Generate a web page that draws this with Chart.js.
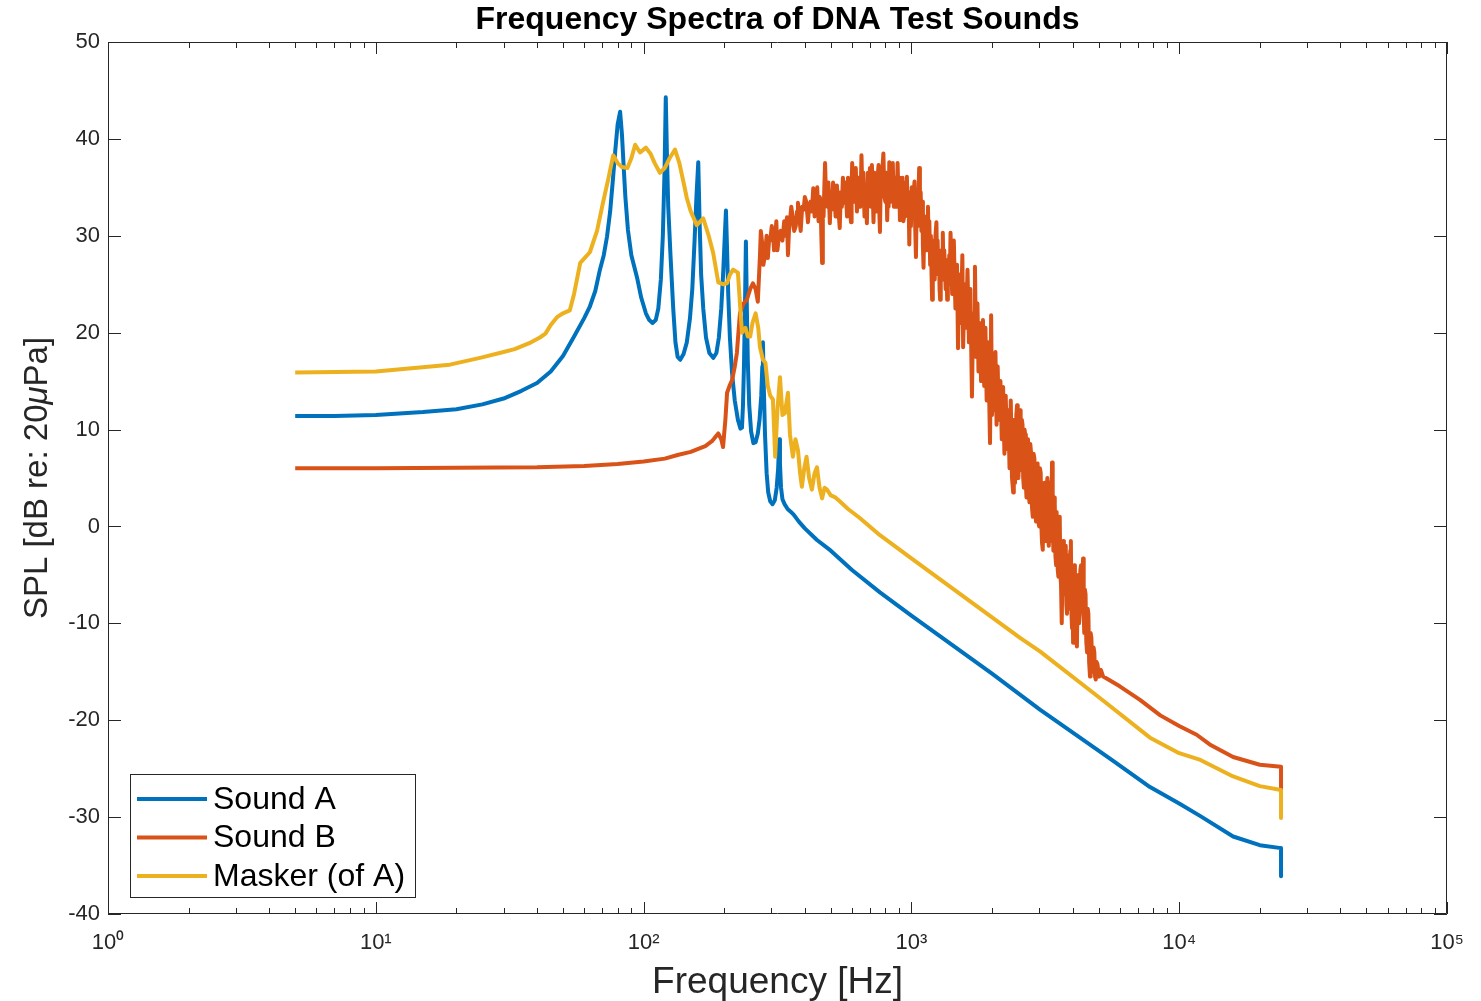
<!DOCTYPE html>
<html>
<head>
<meta charset="utf-8">
<script src="https://cdn.jsdelivr.net/npm/chart.js@4.4.1/dist/chart.umd.min.js"></script>
<style>
  html, body { margin: 0; padding: 0; background: #fff; }
  #wrap { width: 1481px; height: 1001px; position: relative; }
</style>
</head>
<body>
<div id="wrap"><canvas id="spectra"></canvas></div>
<script>
// [frequency in Hz, SPL in dB]
const soundA = [
  [5, 11.4], [7, 11.4], [10, 11.5], [15, 11.8], [20, 12.1], [25, 12.6], [30, 13.2], [35, 14.0],
  [40, 14.8], [45, 16.0], [50, 17.6], [55, 19.6], [60, 21.5], [63, 22.7], [66, 24.3], [68.7, 26.5],
  [71, 28.0], [73, 29.9], [75, 32.5], [76.8, 35.8], [78.5, 39.0], [80, 41.5], [81.7, 42.8],
  [83, 40.5], [84.3, 37.0], [85.5, 34.0], [87.4, 30.6], [90, 28.0], [94.5, 25.7], [98, 23.6],
  [102, 22.0], [105, 21.3], [108, 21.0], [111, 21.3], [113.5, 22.5], [116, 25.5], [118, 30.0],
  [119.8, 37.0], [121, 44.3], [122.2, 38.5], [123.6, 33.0], [126, 28.0], [129, 22.5], [131.5, 19.0],
  [134, 17.5], [137, 17.2], [141, 17.8], [145, 19.0], [149, 21.5], [152, 24.5], [155, 29.5],
  [157.5, 34.0], [160, 37.6], [162, 31.0], [164, 26.0], [167, 22.5], [171, 19.5], [176, 17.9],
  [182, 17.4], [187, 17.9], [191, 19.5], [195, 22.5], [198.5, 26.5], [201, 30.0], [203, 32.6],
  [205, 28.5], [207, 24.0], [210, 19.5], [214, 15.8], [219, 13.0], [225, 11.0], [230, 10.1],
  [233, 10.2], [235, 12.5], [237, 16.5], [239, 22.5], [241, 29.4], [243, 22.5], [245, 17.0],
  [248, 12.5], [252, 9.8], [257, 8.6], [262, 8.7], [267, 9.6], [271, 11.0], [275, 13.5],
  [277.5, 16.5], [279, 19.0], [281, 14.5], [284, 9.5], [288, 5.5], [292, 3.5], [297, 2.6],
  [303, 2.3], [309, 2.7], [314, 4.0], [318, 6.0], [321, 9.0], [323, 6.5], [326, 4.0], [330, 2.8],
  [336, 2.3], [345, 1.8], [355, 1.5], [364, 1.2], [380, 0.5], [400, -0.2], [444, -1.4],
  [500, -2.5], [600, -4.5], [763, -6.8], [1000, -9.2], [2000, -15.2], [3020, -18.9], [5600, -24.1],
  [7780, -26.9], [10000, -28.6], [12000, -29.9], [15900, -32.0], [20000, -32.9], [24000, -33.2],
  [24000, -36.1]
];

const soundB = [
  [5, 6.0], [10, 6.0], [20, 6.05], [40, 6.1], [60, 6.25], [80, 6.45], [100, 6.7], [120, 7.0],
  [135, 7.4], [150, 7.7], [160, 8.0], [170, 8.3], [180, 8.8], [190, 9.6], [195, 9.0], [198, 8.2],
  [202, 11.0], [205, 13.8], [210, 14.6], [214, 15.1], [219, 16.5], [223, 17.9], [226, 20.0],
  [229, 22.0], [236, 23.0], [243, 23.4], [250, 24.5], [256, 25.1], [262, 24.5], [267, 23.2],
  [272, 28.0], [274, 30.5], [277, 29.3], [280, 27.0], [284, 28.0], [288, 30.0], [291, 27.7],
  [294, 29.5], [297, 29.5], [301, 31.0], [304, 30.4], [307, 28.5], [310, 29.5], [313, 31.5],
  [316, 28.5], [320, 30.0], [325, 30.5], [330, 29.5], [335, 31.5], [339, 30.0], [343, 31.9],
  [346, 28.0], [349, 30.5], [352, 31.5], [356, 33.0], [360, 32.0], [365, 30.5], [370, 31.0],
  [374, 32.5], [377, 33.4], [381, 32.0], [386, 30.5], [391, 33.0], [396, 32.7], [400, 34.0],
  [405, 33.5], [411, 31.4], [415, 33.0], [420, 33.5], [425, 32.5], [430, 34.9], [435, 32.0],
  [440, 33.0], [445, 35.0], [450, 31.5], [455, 34.0], [458, 33.5], [461, 30.0], [464, 27.2],
  [467, 33.0], [470, 32.0], [473, 35.0], [476, 37.5], [480, 34.0], [486, 33.0], [490, 35.5],
  [496, 31.3], [500, 34.0], [505, 32.7], [510, 35.5], [516, 34.5], [521, 32.0], [527, 35.2],
  [533, 33.0], [540, 30.8], [545, 34.5], [550, 33.0], [555, 36.0], [560, 33.4], [567, 35.5],
  [575, 32.0], [580, 36.0], [585, 34.5], [590, 32.5], [595, 31.4], [598, 35.0], [601, 37.5],
  [608, 33.5], [615, 34.0], [620, 37.0], [626, 32.5], [632, 35.5], [640, 36.0], [645, 33.0],
  [651, 38.3], [657, 33.7], [662, 36.5], [668, 32.0], [675, 35.0], [682, 31.3], [688, 36.5],
  [695, 34.0], [700, 37.0], [706, 33.0], [712, 37.3], [717, 34.5], [722, 31.4], [728, 36.5],
  [735, 35.0], [741, 32.5], [748, 36.0], [754, 37.3], [758, 33.0], [763, 30.4], [769, 36.0],
  [775, 34.5], [780, 37.0], [786, 38.5], [793, 34.0], [800, 33.5], [806, 36.5], [812, 31.6],
  [818, 35.0], [822, 33.0], [827, 37.6], [833, 33.5], [839, 36.0], [845, 34.5], [852, 37.5],
  [860, 33.0], [867, 35.5], [875, 36.0], [881, 33.0], [888, 37.5], [894, 34.5], [900, 36.0],
  [906, 31.6], [913, 35.5], [920, 34.0], [926, 36.0], [933, 31.5], [940, 32.0], [948, 35.5],
  [955, 33.0], [962, 36.1], [970, 32.0], [976, 34.0], [982, 29.1], [990, 34.5], [996, 31.0],
  [1003, 35.0], [1010, 32.0], [1018, 34.0], [1027, 35.6], [1033, 31.0], [1040, 27.8], [1047, 33.5],
  [1055, 31.0], [1062, 34.0], [1069, 37.0], [1076, 32.5], [1083, 34.5], [1090, 30.5], [1098, 33.5],
  [1104, 29.0], [1110, 26.7], [1118, 32.0], [1124, 29.0], [1130, 31.5], [1140, 28.5], [1147, 31.0],
  [1153, 33.0], [1160, 29.0], [1167, 31.5], [1175, 27.0], [1182, 30.0], [1189, 26.0], [1195, 23.4],
  [1202, 29.5], [1208, 26.5], [1215, 29.0], [1222, 25.5], [1230, 30.0], [1240, 31.4], [1247, 27.0],
  [1253, 29.5], [1260, 26.0], [1268, 28.0], [1274, 24.5], [1280, 23.4], [1287, 27.5], [1295, 28.5],
  [1302, 25.5], [1310, 30.3], [1318, 26.0], [1326, 28.5], [1335, 26.5], [1343, 24.5], [1350, 27.5],
  [1360, 23.4], [1368, 27.0], [1376, 25.0], [1385, 28.0], [1392, 25.5], [1400, 30.3], [1420, 24.0],
  [1440, 29.5], [1460, 22.5], [1480, 27.0], [1493, 18.4], [1510, 26.0], [1530, 21.0], [1550, 28.0],
  [1560, 18.5], [1580, 25.0], [1600, 20.5], [1620, 26.5], [1640, 19.0], [1660, 24.5], [1683, 13.4],
  [1700, 22.0], [1715, 18.0], [1727, 26.8], [1745, 17.5], [1765, 23.0], [1780, 16.0], [1800, 21.0],
  [1820, 15.0], [1850, 21.3], [1870, 14.5], [1890, 20.5], [1910, 13.0], [1935, 19.0], [1966, 8.6],
  [1985, 21.8], [2000, 11.5], [2020, 17.5], [2040, 12.0], [2060, 18.0], [2080, 10.5], [2100, 16.5],
  [2120, 11.0], [2150, 15.0], [2175, 9.0], [2200, 14.4], [2225, 7.5], [2250, 13.5], [2275, 8.0],
  [2300, 12.0], [2325, 6.0], [2350, 13.0], [2375, 5.0], [2400, 3.5], [2412, 9.0], [2425, 11.0],
  [2437, 4.5], [2450, 6.5], [2465, 11.5], [2480, 12.5], [2495, 6.0], [2510, 5.0], [2528, 10.5],
  [2546, 12.0], [2558, 7.0], [2570, 5.8], [2585, 11.0], [2600, 10.5], [2615, 5.0], [2630, 4.0],
  [2645, 10.0], [2660, 9.5], [2675, 4.5], [2690, 3.0], [2708, 9.0], [2725, 8.6], [2742, 3.5],
  [2760, 2.5], [2780, 8.5], [2800, 7.5], [2820, 2.0], [2840, 1.0], [2860, 7.5], [2880, 7.0],
  [2900, 1.5], [2920, 0.5], [2940, 6.0], [2960, 6.5], [2980, 0.5], [3000, 0.0], [3020, 6.0],
  [3040, 5.5], [3058, 0.0], [3075, -1.7], [3088, 3.0], [3100, -2.4], [3120, 3.5], [3140, 4.5],
  [3160, -1.5], [3180, -1.0], [3200, 4.0], [3220, 5.0], [3240, -1.0], [3260, -2.0], [3280, 4.5],
  [3300, 3.5], [3325, -1.5], [3350, 6.6], [3370, 0.5], [3390, -2.5], [3410, 3.0], [3430, 2.5],
  [3450, -3.0], [3470, -4.0], [3485, 1.5], [3500, -0.4], [3520, -4.5], [3540, -5.2], [3560, 0.5],
  [3580, 1.0], [3600, -5.0], [3620, -6.0], [3635, -2.0], [3650, -10.0], [3670, -3.0], [3690, -1.5],
  [3710, -6.5], [3730, -7.0], [3750, -2.5], [3770, -2.0], [3790, -8.0], [3810, -9.0], [3830, -3.5],
  [3850, -3.0], [3875, -8.0], [3900, -8.5], [3920, -2.5], [3940, -1.5], [3960, -9.0], [3980, -10.5],
  [4000, -5.0], [4015, -12.0], [4040, -5.5], [4060, -4.0], [4080, -9.5], [4100, -10.0], [4125, -6.0],
  [4150, -12.4], [4175, -6.5], [4200, -5.0], [4225, -10.0], [4250, -9.0], [4275, -4.5], [4300, -4.0],
  [4340, -8.0], [4375, -3.3], [4400, -9.0], [4420, -11.0], [4445, -6.5], [4470, -7.0], [4500, -12.0],
  [4530, -13.0], [4555, -8.5], [4580, -9.0], [4610, -14.0], [4645, -15.5], [4670, -11.0],
  [4700, -11.5], [4730, -14.5], [4760, -15.0], [4790, -12.5], [4820, -13.0], [4850, -15.5],
  [4880, -15.8], [4915, -14.0], [4950, -14.2], [5020, -15.5], [5100, -14.8], [5200, -15.5],
  [5360, -15.7], [6000, -16.5], [7140, -17.9], [8500, -19.5], [10000, -20.6], [11620, -21.5],
  [13000, -22.5], [15900, -23.8], [20000, -24.6], [24000, -24.8], [24000, -27.2]
];

const masker = [
  [5, 15.9], [10, 16.0], [14.6, 16.4], [18.9, 16.7], [24.5, 17.4], [30, 18.0], [33, 18.3], [38, 19.0],
  [41, 19.5], [43, 19.9], [45, 20.8], [47.5, 21.6], [50, 22.0], [53, 22.3], [55, 24.0], [58, 27.2],
  [63, 28.3], [67, 30.5], [70.5, 33.4], [74, 36.0], [77, 38.3], [80, 37.5], [83, 37.1], [87, 37.0],
  [90, 38.0], [93, 39.4], [97, 38.6], [102, 39.1], [106, 38.5], [110, 37.5], [115, 36.5], [120, 37.0],
  [125, 38.0], [131, 38.9], [136, 37.5], [141, 35.5], [145, 33.9], [150, 32.5], [158, 31.1],
  [167, 31.8], [175, 30.0], [182, 28.2], [190, 25.2], [198, 25.0], [205, 25.1], [210, 26.0],
  [216, 26.5], [225, 26.2], [229, 23.0], [233, 20.0], [240, 20.5], [245, 19.6], [250, 19.6],
  [255, 21.0], [262, 22.0], [268, 20.5], [272, 18.5], [279, 17.2], [285, 16.9], [291, 14.5],
  [297, 13.5], [304, 13.1], [310, 7.2], [316, 12.0], [323, 15.4], [330, 11.5], [337, 11.7],
  [346, 13.8], [352, 9.5], [361, 7.2], [369, 9.0], [377, 7.9], [384, 5.5], [390, 4.1], [398, 6.0],
  [406, 7.2], [415, 5.0], [425, 3.8], [435, 5.5], [444, 6.1], [454, 4.0], [464, 2.9], [474, 4.0],
  [484, 3.8], [500, 3.2], [520, 3.0], [540, 2.6], [580, 1.8], [640, 0.9], [763, -0.9], [1000, -3.3],
  [2546, -11.5], [3020, -12.9], [5000, -17.6], [7780, -21.8], [10000, -23.4], [12000, -24.1],
  [15900, -25.8], [20000, -26.8], [24000, -27.2], [24000, -30.1]
];

const seriesNames = ['Sound A', 'Sound B', 'Masker (of A)'];
const seriesColors = ['#0072BD', '#D95319', '#EDB120'];
const xDecades = [0, 1, 2, 3, 4, 5];
const yTicks = [-40, -30, -20, -10, 0, 10, 20, 30, 40, 50];
const supDigits = ['\u2070', '\u00B9', '\u00B2', '\u00B3', '\u2074', '\u2075'];

const FONT = '"Liberation Sans", Arial, sans-serif';
const toPoints = arr => arr.map(p => ({ x: p[0], y: p[1] }));

// MATLAB style box with inward ticks (minor ticks on log axis)
const axesBox = {
  id: 'axesBox',
  afterDatasetsDraw(chart) {
    const { ctx, chartArea: a, scales: { x, y } } = chart;
    ctx.save();
    ctx.strokeStyle = '#262626';
    ctx.lineWidth = 1;
    ctx.beginPath();
    ctx.rect(a.left + 0.5, a.top + 0.5, a.right - a.left - 1, a.bottom - a.top - 1);
    xDecades.forEach(e => {
      for (let m = 1; m <= 9; m++) {
        const v = m * Math.pow(10, e);
        if (v > x.max) break;
        const px = Math.round(x.getPixelForValue(v)) + 0.5;
        const len = m === 1 ? 12 : 6;
        ctx.moveTo(px, a.bottom);
        ctx.lineTo(px, a.bottom - len);
        ctx.moveTo(px, a.top);
        ctx.lineTo(px, a.top + len);
      }
    });
    yTicks.forEach(v => {
      const py = Math.round(y.getPixelForValue(v)) + 0.5;
      ctx.moveTo(a.left, py);
      ctx.lineTo(a.left + 13, py);
      ctx.moveTo(a.right, py);
      ctx.lineTo(a.right - 13, py);
    });
    ctx.stroke();
    ctx.restore();
  }
};

// title centred over the axes, and the y label with an italic mu
const labels = {
  id: 'labels',
  afterDraw(chart) {
    const { ctx, chartArea: a } = chart;
    ctx.save();
    ctx.fillStyle = '#000';
    ctx.font = 'bold 32px ' + FONT;
    ctx.textAlign = 'center';
    ctx.textBaseline = 'middle';
    ctx.fillText('Frequency Spectra of DNA Test Sounds', (a.left + a.right) / 2, 20);

    const parts = [['SPL [dB re: 20', ''], ['\u03BC', 'italic '], ['Pa]', '']];
    const size = 33;
    let total = 0;
    parts.forEach(p => { ctx.font = p[1] + size + 'px ' + FONT; total += ctx.measureText(p[0]).width; });
    ctx.translate(38, (a.top + a.bottom) / 2);
    ctx.rotate(-Math.PI / 2);
    ctx.fillStyle = '#262626';
    ctx.textAlign = 'left';
    let cx = -total / 2;
    parts.forEach(p => {
      ctx.font = p[1] + size + 'px ' + FONT;
      ctx.fillText(p[0], cx, 0);
      cx += ctx.measureText(p[0]).width;
    });
    ctx.restore();
  }
};

// legend box in the lower left corner of the axes
const boxLegend = {
  id: 'boxLegend',
  afterDraw(chart) {
    const { ctx, chartArea: a } = chart;
    const left = a.left + 22, top = a.bottom - 140, w = 285, h = 123;
    ctx.save();
    ctx.fillStyle = '#fff';
    ctx.fillRect(left, top, w, h);
    ctx.strokeStyle = '#262626';
    ctx.lineWidth = 1;
    ctx.strokeRect(left + 0.5, top + 0.5, w, h);
    ctx.font = '32px ' + FONT;
    ctx.textBaseline = 'middle';
    chart.data.datasets.forEach((ds, i) => {
      const rowY = top + 25 + i * 38.5;
      ctx.strokeStyle = ds.borderColor;
      ctx.lineWidth = 4;
      ctx.beginPath();
      ctx.moveTo(left + 7, rowY);
      ctx.lineTo(left + 77, rowY);
      ctx.stroke();
      ctx.fillStyle = '#000';
      ctx.fillText(ds.label, left + 83, rowY + 1);
    });
    ctx.restore();
  }
};

Chart.defaults.font.family = FONT;
Chart.defaults.color = '#262626';

const ctx = document.getElementById('spectra').getContext('2d');
const chart = new Chart(ctx, {
  type: 'line',
  data: {
    datasets: [soundA, soundB, masker].map((s, i) => ({
      label: seriesNames[i],
      data: toPoints(s),
      borderColor: seriesColors[i],
      backgroundColor: seriesColors[i],
      borderWidth: 4,
      borderJoinStyle: 'round',
      borderCapStyle: 'butt',
      pointRadius: 0,
      tension: 0,
      fill: false,
      order: 3 - i
    }))
  },
  options: {
    responsive: true,
    maintainAspectRatio: false,
    animation: false,
    layout: { padding: { top: 42, right: 34, bottom: 0, left: 0 } },
    plugins: {
      legend: { display: false },
      tooltip: { enabled: false },
      title: { display: false }
    },
    scales: {
      x: {
        type: 'logarithmic',
        min: 1,
        max: 100000,
        grid: { display: false, drawTicks: false },
        border: { display: false },
        afterBuildTicks: scale => {
          scale.ticks = xDecades.map(e => ({ value: Math.pow(10, e) }));
        },
        afterFit: scale => { scale.height = 87; },
        ticks: {
          autoSkip: false,
          maxRotation: 0,
          padding: 16,
          font: { size: 22 },
          color: '#262626',
          callback: v => '10' + supDigits[Math.round(Math.log10(v))]
        },
        title: {
          display: true,
          text: 'Frequency [Hz]',
          color: '#262626',
          font: { size: 37, lineHeight: 1 },
          padding: { top: 0, bottom: 0 }
        }
      },
      y: {
        min: -40,
        max: 50,
        grid: { display: false, drawTicks: false },
        border: { display: false },
        afterBuildTicks: scale => {
          scale.ticks = yTicks.map(v => ({ value: v }));
        },
        afterFit: scale => { scale.width = 108; },
        ticks: {
          padding: 8,
          font: { size: 22 },
          color: '#262626'
        },
        title: { display: false }
      }
    }
  },
  plugins: [axesBox, labels, boxLegend]
});
</script>
</body>
</html>
